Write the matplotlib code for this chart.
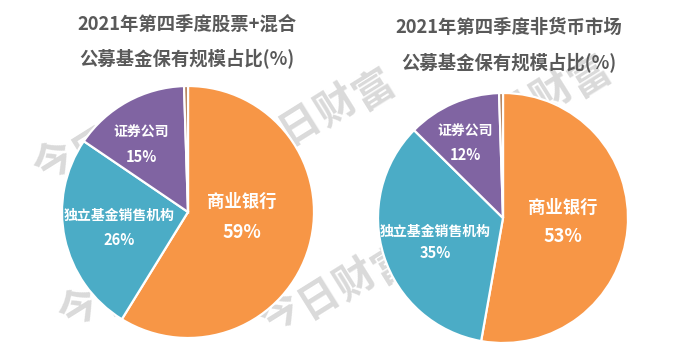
import numpy as np
import matplotlib
matplotlib.use("Agg")
import matplotlib.pyplot as plt

plt.rcParams['font.family'] = ['Noto Sans CJK SC', 'DejaVu Sans']

categories = ['商业银行', '独立基金销售机构', '证券公司', '其他']
left_values = [58.8, 25.7, 15.0, 0.5]
right_values = [52.8, 34.6, 12.1, 0.5]
left_title = '2021年第四季度股票+混合\n公募基金保有规模占比(%)'
right_title = '2021年第四季度非货币市场\n公募基金保有规模占比(%)'
colors = ['#F79646', '#4BACC6', '#8064A2', '#B07A50']

W, H = 675, 352
fig = plt.figure(figsize=(W / 100, H / 100), dpi=100)
fig.patch.set_facecolor('white')


def px_axes(cx, cy, r):
    return fig.add_axes([(cx - r) / W, (H - cy - r) / H, 2 * r / W, 2 * r / H])


# watermark (decoration)
wm_starts = [(262, 140), (478, 127), (55, 163), (80, 310), (281, 314)]
ang = np.deg2rad(24)
for sx, sy in wm_starts:
    for i, ch in enumerate('今日财富'):
        x = sx + i * 41 * np.cos(ang)
        y = sy - i * 41 * np.sin(ang)
        fig.text(x / W, 1 - y / H, ch, fontsize=29, fontweight='heavy',
                 color='#dadada', rotation=32, ha='center', va='center',
                 zorder=-5)

# label positions inside unit pie (layout)
left_label_pos = [(0.43, 0.08, -0.16), (-0.55, -0.03, -0.22), (-0.37, 0.63, 0.44)]
right_label_pos = [(0.48, 0.08, -0.15), (-0.54, -0.11, -0.28), (-0.30, 0.69, 0.50)]


def draw(cx, cy, r, values, title, lpos, tcx, ty):
    ax = px_axes(cx, cy, r)
    ax.set_facecolor('none')
    ax.pie(values, colors=colors, startangle=90, counterclock=False,
           wedgeprops=dict(edgecolor='white', linewidth=1.6))
    ax.set_xlim(-1, 1)
    ax.set_ylim(-1, 1)
    ax.set_aspect('equal')
    ax.axis('off')
    for i, (x, y1, y2) in enumerate(lpos):
        fs = 12.5 if i == 0 else 10
        ax.text(x, y1, categories[i], color='white', fontsize=fs,
                fontweight='bold', ha='center', va='center')
        ax.text(x, y2, f'{round(values[i]):d}%', color='white',
                fontsize=fs + 0.5, fontweight='bold', ha='center', va='center')
    fig.text(tcx / W, 1 - ty / H, title, fontsize=13.2, fontweight='heavy',
             color='#595959', ha='center', va='center', linespacing=1.9)


draw(188, 212, 126, left_values, left_title, left_label_pos, 187, 41)
draw(503, 218, 125, right_values, right_title, right_label_pos, 509, 45)

fig.savefig('out.png', dpi=100)
